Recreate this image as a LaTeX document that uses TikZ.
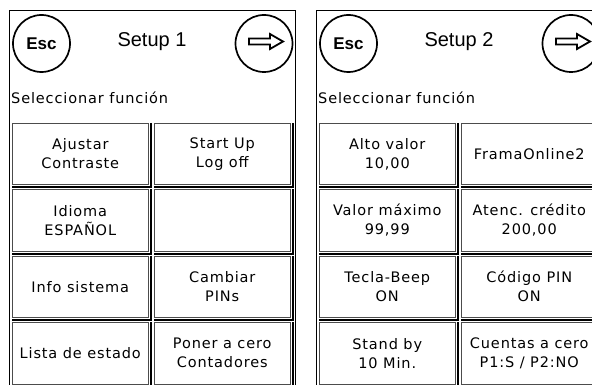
\documentclass[tikz,border=0pt]{standalone}
\usepackage{fontspec}
\newfontfamily\titlefont{Liberation Sans}
\newfontfamily\btnfont{DejaVu Sans}[LetterSpace=6]

\begin{document}
\begin{tikzpicture}[x=1pt, y=-1pt,
    panel/.style={draw=black, line width=1pt},
    key/.style={circle, draw=black, line width=1.7pt, minimum size=57pt, inner sep=0pt, font=\titlefont\bfseries\fontsize{17}{17}\selectfont},
    title/.style={anchor=base, inner sep=0pt, font=\titlefont\fontsize{20}{20}\selectfont},
    prompt/.style={anchor=base west, inner sep=0pt, font=\btnfont\fontsize{14.5}{18}\selectfont},
    button/.style={rectangle, draw=black!70, line width=0.8pt, fill=white, minimum width=136.5pt, minimum height=61.5pt, align=center, inner sep=0pt, font=\btnfont\fontsize{14.5}{19}\selectfont},
    shadow/.style={black, line width=2pt},
    hollow/.style={draw=black, line width=1.8pt, line join=miter}
]
\useasboundingbox (0,0) rectangle (592,385);
\clip (0,0) rectangle (592,385);

% Panel frames
\draw[panel] (9,400) -- (9,10.5) -- (295,10.5) -- (295,400);
\draw[panel] (316.5,400) -- (316.5,10.5) -- (602,10.5) -- (602,400);

% Header keys and titles
\node[key] (esc1) at (41.5,43.5) {Esc};
\node[key] (next1) at (264,43.5) {};
\node[title] (title1) at (152,47) {Setup 1};
\node[key] (esc2) at (348.5,43.5) {Esc};
\node[key] (next2) at (571,43.5) {};
\node[title] (title2) at (459,47) {Setup 2};

% Arrows in the right keys
\foreach \k in {next1,next2}
  \draw[hollow, shift={(\k.center)}] (-15,-5) -- (6,-5) -- (6,-9.5) -- (19,-2) -- (6,5.5) -- (6,1) -- (-15,1) -- cycle;

% Prompts
\node[prompt] (prompt1) at (11,104) {Seleccionar función};
\node[prompt] (prompt2) at (318,104) {Seleccionar función};

% Function buttons, Setup 1
\node[button] (contrast) at (80.25,154) {Ajustar\\Contraste};
\node[button] (startup) at (222.25,154) {Start Up\\Log off};
\node[button] (language) at (80.25,220.4) {Idioma\\ESPAÑOL};
\node[button] (blank) at (222.25,220.4) {};
\node[button] (info) at (80.25,286.8) {Info sistema};
\node[button] (pins) at (222.25,286.8) {Cambiar\\PINs};
\node[button] (status) at (80.25,353.2) {Lista de estado};
\node[button] (counters) at (222.25,353.2) {Poner a cero\\Contadores};

% Function buttons, Setup 2
\node[button] (highval) at (387.25,154) {Alto valor\\10,00};
\node[button] (frama) at (529.25,154) {FramaOnline2};
\node[button] (maxval) at (387.25,220.4) {Valor máximo\\99,99};
\node[button] (credit) at (529.25,220.4) {Atenc. crédito\\200,00};
\node[button] (beep) at (387.25,286.8) {Tecla-Beep\\ON};
\node[button] (pincode) at (529.25,286.8) {Código PIN\\ON};
\node[button] (standby) at (387.25,353.2) {Stand by\\10 Min.};
\node[button] (accounts) at (529.25,353.2) {Cuentas a cero\\P1:S / P2:NO};

% Button shadows
\foreach \b in {contrast,startup,language,blank,info,pins,status,counters,highval,frama,maxval,credit,beep,pincode,standby,accounts}
  \draw[shadow] ([xshift=2pt]\b.north east) -- ([shift={(2pt,-2pt)}]\b.south east) -- ([yshift=-2pt]\b.south west);

\end{tikzpicture}
\end{document}
